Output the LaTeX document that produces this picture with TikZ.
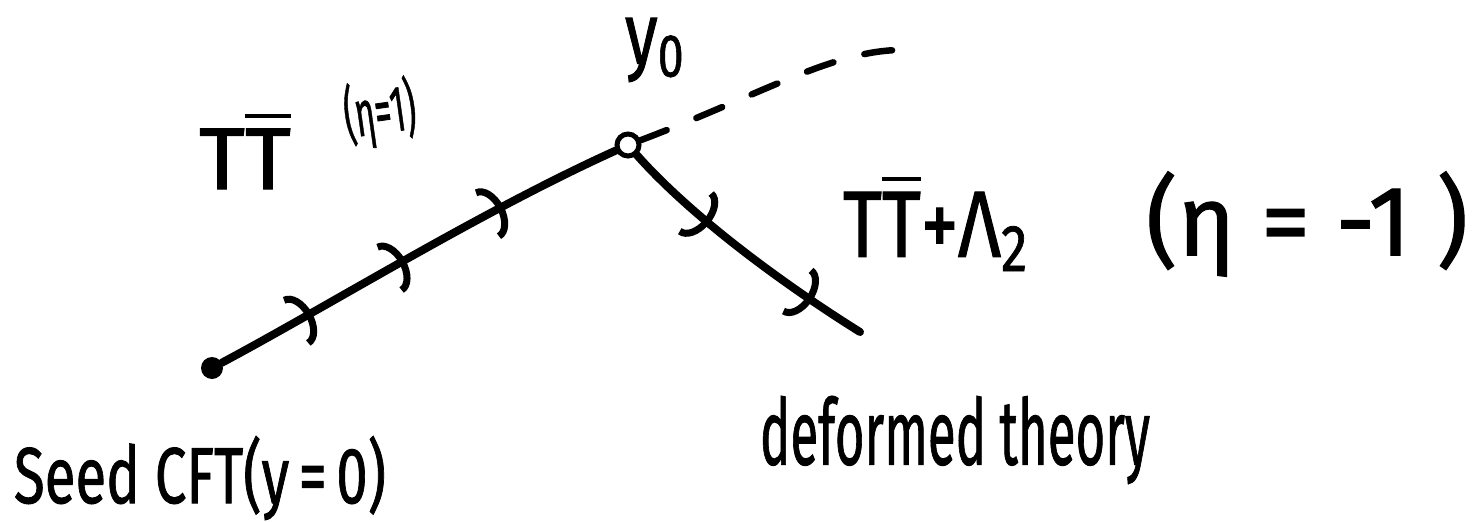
\documentclass[tikz,border=0pt]{standalone}
\usepackage{fontspec}
\usepackage{graphicx}
\setmainfont{Fira Sans}[FakeBold=1.2]
\usetikzlibrary{arrows.meta,decorations.markings}
\tikzset{
  stroke/.style={line width=8pt, line cap=round},
  flowtip/.tip={Arc Barb[length=18pt,width=56pt,line width=7pt]},
  upflow/.style={postaction={decorate}, decoration={markings,
      mark=at position 0.23 with {\arrow{flowtip}},
      mark=at position 0.47 with {\arrow{flowtip}},
      mark=at position 0.72 with {\arrow{flowtip}}}},
  downflow/.style={postaction={decorate}, decoration={markings,
      mark=at position 0.35 with {\arrow{flowtip}},
      mark=at position 0.80 with {\arrow{flowtip}}}},
  lbl/.style={inner sep=0pt, anchor=center},
}
\begin{document}
\begin{tikzpicture}[x=1pt,y=-1pt]
\useasboundingbox (0,0) rectangle (1478,522);
% points
\node[circle, fill, inner sep=0pt, minimum size=22pt] (seed) at (212,368) {};
\node[circle, draw, line width=5pt, inner sep=0pt, minimum size=22pt] (y0) at (628,145) {};
\coordinate (dend) at (898,50);
\coordinate (lend) at (860,332);
% flows
\draw[stroke, upflow] (seed) .. controls (330,305) and (480,212) .. (y0);
\draw[stroke, downflow] (y0) .. controls (690,215) and (780,282) .. (lend);
\draw[stroke, line width=6.5pt, dash pattern=on 28pt off 32pt] (y0) .. controls (760,95) and (830,52) .. (dend);
% labels
\node[lbl] (ttlbl) at (245,150) {\resizebox*{92pt}{78pt}{T$\overline{\mbox{T}}$}};
\node[lbl, rotate=8] (etapos) at (380,113) {\resizebox*{72pt}{68pt}{(η=1)}};
\node[lbl] (y0lbl) at (656,50) {\resizebox*{62pt}{64pt}{y\textsubscript{0}}};
\node[lbl] (ttlam) at (937,222) {\resizebox*{188pt}{98pt}{T$\overline{\mbox{T}}$+Λ\textsubscript{2}}};
\node[lbl] (etaneg) at (1307,224) {\resizebox*{322pt}{105pt}{(η = -1 )}};
\node[lbl] (seedlbl) at (200,478) {\resizebox*{372pt}{84pt}{Seed CFT(y\,=\,0)}};
\node[lbl] (deflbl) at (955,440) {\resizebox*{390pt}{88pt}{deformed theory}};
\end{tikzpicture}
\end{document}
